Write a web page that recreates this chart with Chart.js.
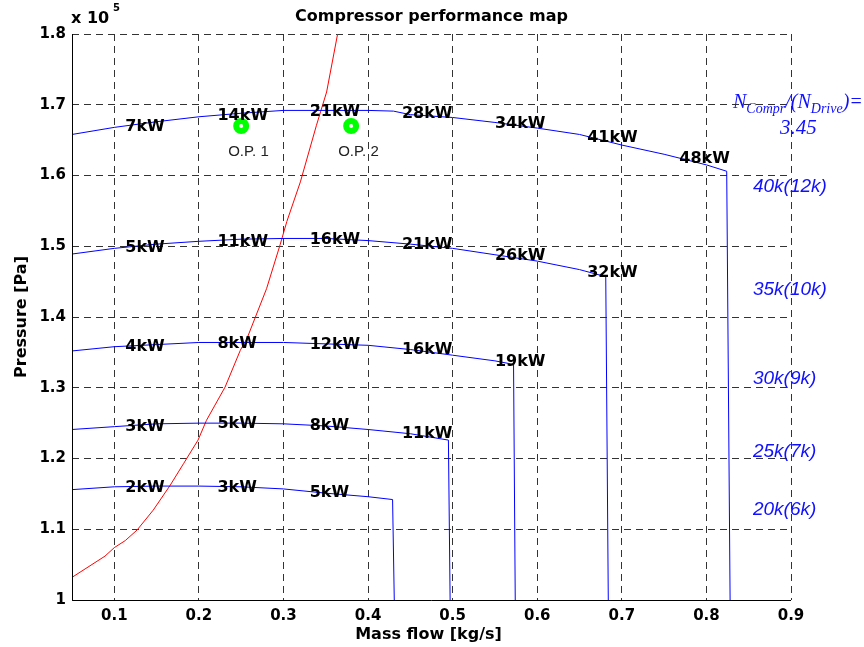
<!DOCTYPE html>
<html>
<head>
<meta charset="utf-8">
<script src="https://cdn.jsdelivr.net/npm/chart.js@4/dist/chart.umd.min.js"></script>
<style>
  body { margin: 0; background: #fff; }
  #wrap { width: 864px; height: 647px; }
</style>
</head>
<body>
<div id="wrap"><canvas id="mapa" width="864" height="647"></canvas></div>
<script>
// Speed lines: mass flow [kg/s] and pressure [x 10^5 Pa]
const flow40k = [0.05, 0.1, 0.15, 0.2, 0.25, 0.3, 0.35, 0.4, 0.43, 0.45, 0.5, 0.55, 0.6, 0.65, 0.7, 0.75, 0.8, 0.824, 0.828];
const pres40k = [1.658, 1.668, 1.676, 1.683, 1.688, 1.692, 1.692, 1.692, 1.691, 1.686, 1.682, 1.675, 1.667, 1.658, 1.643, 1.630, 1.615, 1.606, 1.0];

const flow35k = [0.05, 0.1, 0.15, 0.2, 0.25, 0.3, 0.35, 0.4, 0.45, 0.5, 0.55, 0.6, 0.65, 0.681, 0.684];
const pres35k = [1.489, 1.497, 1.503, 1.507, 1.510, 1.511, 1.511, 1.508, 1.503, 1.497, 1.488, 1.479, 1.467, 1.457, 1.0];

const flow30k = [0.05, 0.1, 0.15, 0.2, 0.25, 0.3, 0.35, 0.4, 0.45, 0.5, 0.55, 0.572, 0.574];
const pres30k = [1.352, 1.358, 1.361, 1.364, 1.364, 1.364, 1.362, 1.360, 1.354, 1.346, 1.338, 1.333, 1.0];

const flow25k = [0.05, 0.1, 0.15, 0.2, 0.25, 0.3, 0.35, 0.4, 0.45, 0.495, 0.497];
const pres25k = [1.241, 1.245, 1.249, 1.250, 1.250, 1.249, 1.246, 1.241, 1.235, 1.226, 1.0];

const flow20k = [0.05, 0.1, 0.15, 0.2, 0.25, 0.3, 0.35, 0.4, 0.429, 0.431];
const pres20k = [1.156, 1.160, 1.161, 1.161, 1.160, 1.157, 1.151, 1.146, 1.142, 1.0];

// Red line
const flowRed = [0.05, 0.089, 0.1, 0.113, 0.127, 0.146, 0.166, 0.182, 0.199, 0.209, 0.231, 0.249, 0.257, 0.28, 0.296, 0.304, 0.32, 0.339, 0.351, 0.364];
const presRed = [1.032, 1.062, 1.074, 1.084, 1.099, 1.127, 1.162, 1.193, 1.226, 1.254, 1.301, 1.353, 1.37, 1.44, 1.502, 1.535, 1.591, 1.671, 1.718, 1.8];

// Power labels along each speed line (placed at these flow values)
const powerCols = [0.113, 0.222, 0.331, 0.440, 0.550, 0.659, 0.768];
const power40k = ['7kW', '14kW', '21kW', '28kW', '34kW', '41kW', '48kW'];
const power35k = ['5kW', '11kW', '16kW', '21kW', '26kW', '32kW'];
const power30k = ['4kW', '8kW', '12kW', '16kW', '19kW'];
const power25k = ['3kW', '5kW', '8kW', '11kW'];
const power20k = ['2kW', '3kW', '5kW'];

// Speed names on the right
const speedNames = ['40k(12k)', '35k(10k)', '30k(9k)', '25k(7k)', '20k(6k)'];
const speedNameY = [1.584, 1.439, 1.313, 1.209, 1.127];
const speedNameX = 0.855;
const ratioText = '3.45';

// Operating points
const opFlow = [0.25, 0.38];
const opPres = [1.67, 1.67];
const opNames = ['O.P. 1', 'O.P. 2'];

const xTicks = [0.1, 0.2, 0.3, 0.4, 0.5, 0.6, 0.7, 0.8, 0.9];
const yTicks = [1, 1.1, 1.2, 1.3, 1.4, 1.5, 1.6, 1.7, 1.8];

function puntos(xs, ys) {
  return xs.map((x, i) => ({ x: x, y: ys[i] }));
}

function lineaAzul(xs, ys) {
  return {
    data: puntos(xs, ys),
    showLine: true,
    borderColor: '#0000ff',
    borderWidth: 1,
    pointRadius: 0,
    tension: 0
  };
}

function interp(xs, ys, x) {
  for (let i = 0; i < xs.length - 1; i++) {
    if (x >= xs[i] && x <= xs[i + 1]) {
      const t = (x - xs[i]) / (xs[i + 1] - xs[i]);
      return ys[i] + t * (ys[i + 1] - ys[i]);
    }
  }
  return ys[ys.length - 1];
}

const lineas = [
  [flow40k, pres40k, power40k],
  [flow35k, pres35k, power35k],
  [flow30k, pres30k, power30k],
  [flow25k, pres25k, power25k],
  [flow20k, pres20k, power20k]
];

const textos = {
  id: 'textos',
  afterDraw(chart) {
    const ctx = chart.ctx;
    const xs = chart.scales.x, ys = chart.scales.y;
    const a = chart.chartArea;
    ctx.save();

    // solid axes left and bottom
    ctx.strokeStyle = '#000';
    ctx.lineWidth = 1;
    ctx.setLineDash([]);
    ctx.beginPath();
    ctx.moveTo(a.left + 0.5, a.top);
    ctx.lineTo(a.left + 0.5, a.bottom + 0.5);
    ctx.lineTo(a.right, a.bottom + 0.5);
    ctx.stroke();

    // power labels
    ctx.fillStyle = '#000';
    ctx.font = 'bold 16px "DejaVu Sans"';
    ctx.textAlign = 'left';
    ctx.textBaseline = 'middle';
    lineas.forEach(l => {
      l[2].forEach((txt, i) => {
        const fx = powerCols[i];
        const py = interp(l[0], l[1], fx);
        ctx.fillText(txt, xs.getPixelForValue(fx), ys.getPixelForValue(py) + 1);
      });
    });

    // operating point names
    ctx.fillStyle = '#222';
    ctx.font = '15px "Liberation Sans"';
    opNames.forEach((n, i) => {
      ctx.fillText(n, xs.getPixelForValue(opFlow[i]) - 13, ys.getPixelForValue(opPres[i]) + 26);
    });

    // speed names
    ctx.fillStyle = '#1010ff';
    ctx.font = 'italic 19px "Liberation Sans"';
    speedNames.forEach((n, i) => {
      ctx.fillText(n, xs.getPixelForValue(speedNameX), ys.getPixelForValue(speedNameY[i]));
    });

    // N_Compr/(N_Drive)=
    ctx.textBaseline = 'alphabetic';
    let px = 733, base = 108;
    const trozos = [['N', 20, 0], ['Compr', 14, 5], ['/(N', 20, 0], ['Drive', 14, 5], [')=', 20, 0]];
    trozos.forEach(t => {
      ctx.font = 'italic ' + t[1] + 'px "Liberation Serif"';
      ctx.fillText(t[0], px, base + t[2]);
      px += ctx.measureText(t[0]).width;
    });
    ctx.font = 'italic 21px "Liberation Serif"';
    ctx.fillText(ratioText, 780, 134);

    // title
    ctx.fillStyle = '#000';
    ctx.textAlign = 'center';
    ctx.textBaseline = 'middle';
    ctx.font = 'bold 16px "DejaVu Sans"';
    ctx.fillText('Compressor performance map', (a.left + a.right) / 2, 17);

    // x 10^5
    ctx.textAlign = 'left';
    ctx.font = 'bold 16px "DejaVu Sans"';
    ctx.fillText('x 10', 71, 19);
    ctx.font = 'bold 10px "DejaVu Sans"';
    ctx.fillText('5', 113, 8);

    // axis titles
    ctx.font = 'bold 16px "DejaVu Sans"';
    ctx.textAlign = 'center';
    ctx.fillText('Mass flow [kg/s]', (a.left + a.right) / 2 - 3, 635);
    ctx.translate(22, (a.top + a.bottom) / 2);
    ctx.rotate(-Math.PI / 2);
    ctx.fillText('Pressure [Pa]', 0, 0);
    ctx.restore();
  }
};

const ctx = document.getElementById('mapa').getContext('2d');
const mapa = new Chart(ctx, {
  type: 'scatter',
  data: {
    datasets: [
      lineaAzul(flow40k, pres40k),
      lineaAzul(flow35k, pres35k),
      lineaAzul(flow30k, pres30k),
      lineaAzul(flow25k, pres25k),
      lineaAzul(flow20k, pres20k),
      {
        data: puntos(flowRed, presRed),
        showLine: true,
        borderColor: '#ff0000',
        borderWidth: 1,
        pointRadius: 0,
        tension: 0
      },
      {
        data: puntos(opFlow, opPres),
        showLine: false,
        pointRadius: 5,
        borderWidth: 6,
        borderColor: '#00ff00',
        backgroundColor: '#ffffff'
      }
    ]
  },
  options: {
    responsive: false,
    animation: false,
    layout: { padding: { left: 0, top: 34, right: 73, bottom: 0 } },
    plugins: { legend: { display: false }, tooltip: { enabled: false } },
    scales: {
      x: {
        type: 'linear',
        min: 0.05,
        max: 0.9,
        afterFit: s => { s.height = 47; },
        afterBuildTicks: s => { s.ticks = xTicks.map(v => ({ value: v })); },
        grid: { color: '#333', lineWidth: 1, drawTicks: false },
        border: { display: false, dash: [7, 5] },
        ticks: {
          padding: 7,
          color: '#000',
          font: { family: 'DejaVu Sans', size: 15, weight: 'bold' },
          callback: v => v.toFixed(1)
        }
      },
      y: {
        type: 'linear',
        min: 1,
        max: 1.8,
        afterFit: s => { s.width = 72; },
        afterBuildTicks: s => { s.ticks = yTicks.map(v => ({ value: v })); },
        grid: { color: '#333', lineWidth: 1, drawTicks: false },
        border: { display: false, dash: [7, 5] },
        ticks: {
          padding: 6,
          color: '#000',
          font: { family: 'DejaVu Sans', size: 15, weight: 'bold' },
          callback: v => (v === 1 ? '1' : v.toFixed(1))
        }
      }
    }
  },
  plugins: [textos]
});
</script>
</body>
</html>
